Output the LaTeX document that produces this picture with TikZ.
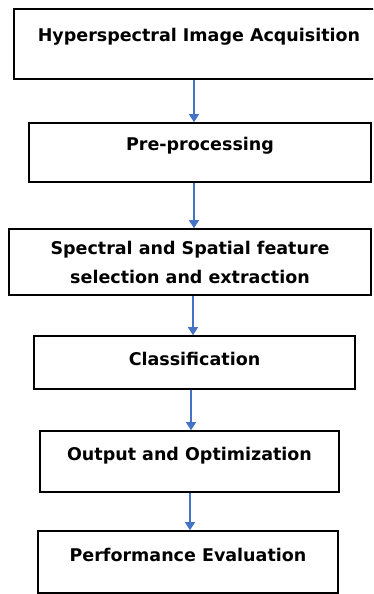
\documentclass[tikz,border=0pt]{standalone}
\usepackage{fontspec}
\setmainfont{DejaVu Sans}
\usetikzlibrary{arrows.meta}
\definecolor{flowblue}{HTML}{4472C4}

\begin{document}
\begin{tikzpicture}[x=1pt,y=-1pt,
    box/.style = {draw, line width=1.6pt, rectangle, inner sep=0pt, font=\bfseries\fontsize{17.5}{29}\selectfont, align=center},
    flow/.style = {draw=flowblue, line width=1.3pt, -{Triangle[width=10pt,length=8pt]}}]
        \clip (0,0) rectangle (373,594);
        \node[box, minimum width=370, text height=33, text depth=37] (1) at (199,44) {Hyperspectral Image Acquisition};
        \node[box, minimum width=342, text height=27, text depth=32] (2) at (200,152.5) {Pre-processing};
        \node[box, minimum width=362, minimum height=66] (3) at (190,262) {Spectral and Spatial feature\\selection and extraction};
        \node[box, minimum width=321, text height=29, text depth=24] (4) at (194.5,362.5) {Classification};
        \node[box, minimum width=299, text height=29, text depth=32] (5) at (189.5,461.5) {Output and Optimization};
        \node[box, minimum width=300, text height=30, text depth=32] (6) at (188,562) {Performance Evaluation};
        \draw[flow] ([xshift=-5pt]1.south) -- ([xshift=-6pt]2.north);
        \draw[flow] ([xshift=-6pt]2.south) -- ([xshift=4pt]3.north);
        \draw[flow] ([xshift=3pt]3.south) -- ([xshift=-1.5pt]4.north);
        \draw[flow] ([xshift=-3.5pt]4.south) -- ([xshift=1.5pt]5.north);
        \draw[flow] ([xshift=0.5pt]5.south) -- ([xshift=2pt]6.north);
\end{tikzpicture}
\end{document}
